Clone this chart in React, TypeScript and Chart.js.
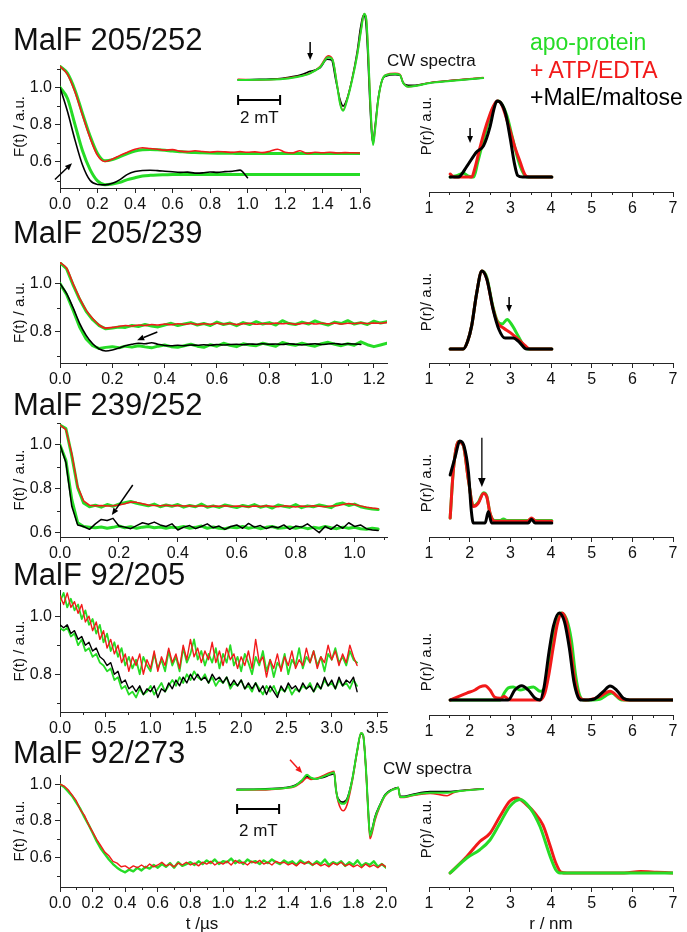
import React, { useEffect, useRef } from 'react';
import { Chart, registerables } from 'chart.js';

Chart.register(...registerables);

const FONT = "'Liberation Sans', Arial, Helvetica, sans-serif";
Chart.defaults.font.family = FONT;

const GREEN = '#26dc26';
const RED = '#f21a1a';
const BLACK = '#000000';
const AXIS = '#262626';
const TEXT = '#111111';

type Pt = [number, number];

// ---------------- Row 1 : MalF 205/252 ----------------
const R1_STEP = 0.04;
const R1_RED = [1.113,1.07,0.975,0.85,0.73,0.635,0.602,0.615,0.635,0.652,0.668,0.676,0.672,0.668,0.663,0.666,0.658,0.655,0.66,0.656,0.652,0.656,0.654,0.651,0.655,0.652,0.654,0.65,0.657,0.668,0.652,0.648,0.66,0.645,0.652,0.649,0.652,0.648,0.65,0.649,0.648];
const R1_GREEN_UP = [1.113,1.075,0.985,0.86,0.74,0.645,0.606,0.612,0.628,0.645,0.658,0.665,0.667,0.665,0.662,0.658,0.655,0.652,0.65,0.649,0.648,0.647,0.646,0.646,0.645,0.645,0.645,0.645,0.645,0.645,0.645,0.645,0.645,0.645,0.645,0.645,0.645,0.645,0.645,0.645,0.645];
const R1_BLACK = [1.0,0.87,0.717,0.583,0.501,0.479,0.477,0.485,0.505,0.533,0.548,0.554,0.555,0.553,0.55,0.547,0.544,0.545,0.54,0.541,0.546,0.544,0.548,0.55,0.556,0.515];
const R1_GREEN_LO = [1.0,0.94,0.8,0.66,0.56,0.498,0.478,0.482,0.49,0.505,0.515,0.524,0.528,0.53,0.531,0.532,0.532,0.532,0.532,0.532,0.532,0.532,0.532,0.532,0.532,0.532,0.532,0.532,0.532,0.532,0.532,0.532,0.532,0.532,0.532,0.532,0.532,0.532,0.532,0.532,0.532];
const R1_PR_BLACK: Pt[] = [[1.52,0],[1.72,0],[1.93,0.14],[2.17,0.33],[2.34,0.41],[2.5,0.66],[2.6,0.9],[2.67,1.0],[2.76,0.98],[2.88,0.84],[3.0,0.5],[3.1,0.18],[3.18,0.02],[3.3,0],[4.02,0]];
const R1_PR_RED: Pt[] = [[1.52,0.04],[1.62,0],[2.05,0],[2.13,0.12],[2.25,0.38],[2.42,0.7],[2.58,0.93],[2.68,1.0],[2.78,0.96],[2.9,0.78],[3.0,0.6],[3.12,0.38],[3.24,0.2],[3.36,0.03],[3.46,0],[4.02,0]];
const R1_PR_GREEN: Pt[] = [[1.52,0],[1.7,0.02],[1.85,0.05],[1.97,0.01],[2.1,0],[2.2,0.2],[2.38,0.57],[2.55,0.88],[2.7,1.0],[2.8,0.95],[2.92,0.8],[3.05,0.52],[3.18,0.25],[3.3,0.07],[3.4,0],[4.02,0]];
const R1_CW_GREEN: Pt[] = [[0,0],[1.05,0.005],[2,0.01],[2.81,0.045],[3.43,0.1],[3.9,0.19],[4.29,0.34],[4.5,0.3],[4.71,-0.07],[4.86,-0.36],[5.0,-0.46],[5.19,-0.3],[5.43,0],[5.67,0.37],[5.86,0.75],[6.0,0.99],[6.1,0.92],[6.19,0.45],[6.29,-0.3],[6.38,-0.82],[6.43,-0.97],[6.52,-0.75],[6.67,-0.3],[6.86,0],[7.05,0.075],[7.48,0.09],[7.71,0.075],[7.86,-0.045],[8.1,-0.1],[8.43,-0.09],[9.14,-0.045],[10.1,-0.015],[11.67,0.03]];
const R1_CW_RED: Pt[] = [[0,0.01],[1.05,0.0],[2,0.015],[2.81,0.05],[3.43,0.1],[3.9,0.2],[4.29,0.36],[4.5,0.31],[4.71,-0.06],[4.86,-0.35],[5.0,-0.45],[5.19,-0.29],[5.43,0.01],[5.67,0.38],[5.86,0.76],[6.0,0.99],[6.1,0.92],[6.19,0.45],[6.29,-0.3],[6.38,-0.8],[6.43,-0.95],[6.52,-0.74],[6.67,-0.3],[6.86,0],[7.05,0.08],[7.48,0.1],[7.71,0.085],[7.86,-0.04],[8.1,-0.1],[8.43,-0.09],[9.14,-0.04],[10.1,-0.01],[11.67,0.035]];
const R1_CW_BLACK: Pt[] = [[0,0],[1,0.01],[2,0.02],[2.6,0.05],[3.0,0.08],[3.43,0.13],[3.9,0.18],[4.24,0.31],[4.45,0.3],[4.65,0.0],[4.86,-0.3],[5.0,-0.39],[5.2,-0.27],[5.43,0.02],[5.67,0.42],[5.83,0.78],[5.97,0.97],[6.07,0.9],[6.17,0.42],[6.27,-0.3],[6.36,-0.8],[6.42,-0.93],[6.52,-0.7],[6.67,-0.28],[6.86,0],[7.05,0.06],[7.48,0.08],[7.71,0.07],[7.86,-0.04],[8.1,-0.08],[8.43,-0.08],[9.14,-0.04],[10.1,-0.01],[11.67,0.03]];

// ---------------- Row 2 : MalF 205/239 ----------------
const R2_STEP = 0.025;
const R2_RED = [1.087,1.065,1.0,0.94,0.89,0.855,0.828,0.815,0.818,0.822,0.826,0.824,0.828,0.826,0.83,0.828,0.832,0.829,0.833,0.831,0.834,0.83,0.833,0.831,0.835,0.832,0.834,0.83,0.833,0.835,0.831,0.834,0.832,0.836,0.833,0.835,0.831,0.834,0.836,0.832,0.835,0.833,0.836,0.832,0.835,0.834,0.837,0.834,0.836,0.835,0.839];
const R2_GREEN_UP = [1.087,1.062,0.995,0.935,0.885,0.85,0.825,0.812,0.815,0.82,0.818,0.826,0.822,0.83,0.824,0.82,0.828,0.835,0.826,0.832,0.838,0.828,0.834,0.826,0.84,0.83,0.836,0.825,0.838,0.83,0.842,0.832,0.838,0.828,0.846,0.834,0.83,0.84,0.832,0.845,0.835,0.828,0.84,0.834,0.846,0.832,0.838,0.83,0.844,0.836,0.842];
const R2_BLACK = [1.0,0.96,0.9,0.835,0.785,0.75,0.728,0.72,0.724,0.732,0.742,0.748,0.752,0.75,0.754,0.748,0.743,0.742,0.744,0.742,0.745,0.744,0.746,0.744,0.747,0.745,0.747,0.748,0.746,0.749,0.748,0.75,0.748,0.749,0.747,0.75,0.748,0.745,0.748,0.75,0.747,0.749,0.751,0.748,0.75,0.749,0.747];
const R2_GREEN_LO = [1.0,0.955,0.89,0.82,0.77,0.742,0.73,0.735,0.738,0.733,0.74,0.736,0.742,0.737,0.733,0.74,0.745,0.738,0.735,0.742,0.748,0.74,0.735,0.746,0.74,0.752,0.744,0.738,0.75,0.745,0.742,0.752,0.746,0.74,0.755,0.748,0.744,0.752,0.745,0.74,0.75,0.756,0.748,0.742,0.75,0.744,0.758,0.746,0.738,0.745,0.752];
const R2_PR_BLACK: Pt[] = [[1.52,0],[1.84,0],[1.95,0.1],[2.05,0.3],[2.17,0.71],[2.3,1.0],[2.42,0.9],[2.58,0.5],[2.72,0.25],[2.87,0.14],[3.07,0.14],[3.2,0.1],[3.4,0],[4.02,0]];
const R2_PR_RED: Pt[] = [[1.52,0],[1.84,0],[1.95,0.1],[2.05,0.3],[2.17,0.71],[2.3,1.0],[2.42,0.9],[2.56,0.55],[2.68,0.34],[2.83,0.27],[3.0,0.21],[3.16,0.14],[3.35,0.05],[3.48,0],[4.02,0]];
const R2_PR_GREEN: Pt[] = [[1.52,0],[1.84,0],[1.95,0.1],[2.05,0.3],[2.17,0.71],[2.3,1.0],[2.42,0.92],[2.56,0.57],[2.68,0.36],[2.8,0.32],[2.92,0.38],[3.05,0.3],[3.2,0.16],[3.32,0.05],[3.44,0],[4.02,0]];

// ---------------- Row 3 : MalF 239/252 ----------------
const R3_STEP = 0.02;
const R3_RED = [1.091,1.07,0.96,0.81,0.745,0.725,0.722,0.724,0.721,0.723,0.726,0.732,0.74,0.738,0.732,0.726,0.724,0.723,0.725,0.722,0.724,0.721,0.723,0.72,0.722,0.719,0.721,0.72,0.722,0.719,0.721,0.72,0.718,0.721,0.719,0.722,0.72,0.718,0.722,0.72,0.717,0.721,0.719,0.722,0.72,0.718,0.721,0.722,0.728,0.733,0.728,0.722,0.716,0.712,0.709];
const R3_GREEN_UP = [1.091,1.075,0.95,0.805,0.735,0.718,0.725,0.716,0.728,0.72,0.73,0.736,0.742,0.734,0.728,0.722,0.73,0.718,0.726,0.72,0.728,0.716,0.724,0.718,0.73,0.716,0.722,0.715,0.726,0.72,0.714,0.724,0.718,0.728,0.716,0.722,0.712,0.726,0.72,0.716,0.728,0.714,0.722,0.718,0.726,0.72,0.714,0.73,0.735,0.724,0.73,0.718,0.712,0.708,0.705];
const R3_BLACK = [1.0,0.92,0.72,0.635,0.628,0.615,0.64,0.66,0.655,0.665,0.63,0.625,0.618,0.632,0.645,0.638,0.648,0.635,0.628,0.64,0.612,0.625,0.632,0.618,0.628,0.64,0.622,0.63,0.615,0.628,0.635,0.62,0.642,0.625,0.632,0.618,0.628,0.622,0.635,0.615,0.63,0.625,0.64,0.62,0.6,0.628,0.615,0.635,0.62,0.645,0.628,0.635,0.618,0.612,0.61];
const R3_GREEN_LO = [1.0,0.93,0.75,0.645,0.628,0.625,0.622,0.626,0.62,0.624,0.63,0.622,0.627,0.62,0.625,0.628,0.622,0.626,0.62,0.625,0.622,0.628,0.62,0.624,0.63,0.62,0.626,0.62,0.618,0.625,0.622,0.628,0.62,0.625,0.618,0.624,0.628,0.62,0.622,0.626,0.62,0.625,0.618,0.624,0.62,0.628,0.622,0.618,0.625,0.62,0.624,0.618,0.615,0.62,0.616];
const R3_PR_BLACK: Pt[] = [[1.52,0.585],[1.64,0.8],[1.76,1.0],[1.86,0.94],[1.97,0.62],[2.04,0.15],[2.09,0],[2.38,0],[2.46,0.14],[2.54,0],[3.44,0],[3.52,0.045],[3.61,0],[4.02,0]];
const R3_PR_RED: Pt[] = [[1.52,0.06],[1.6,0.65],[1.72,0.99],[1.84,0.95],[1.97,0.52],[2.09,0.2],[2.21,0.24],[2.34,0.36],[2.42,0.32],[2.5,0.12],[2.62,0.02],[3.42,0.02],[3.52,0.06],[3.63,0.02],[4.02,0.02]];
const R3_PR_GREEN: Pt[] = [[1.52,0.06],[1.6,0.65],[1.72,0.99],[1.84,0.95],[1.97,0.52],[2.09,0.21],[2.21,0.25],[2.34,0.37],[2.42,0.33],[2.5,0.12],[2.62,0.03],[2.75,0.03],[2.83,0.05],[2.92,0.03],[3.42,0.03],[3.52,0.05],[3.63,0.03],[4.02,0.03]];

// ---------------- Row 4 : MalF 92/205 ----------------
const R4_STEP = 0.04;
const R4_RED = [1.07,1.04,1.08,1.03,1.05,1.01,1.04,0.98,1.0,0.95,0.98,0.92,0.95,0.89,0.92,0.87,0.9,0.84,0.87,0.81,0.86,0.83,0.87,0.8,0.85,0.82,0.88,0.81,0.86,0.83,0.89,0.84,0.87,0.82,0.9,0.85,0.92,0.86,0.89,0.84,0.88,0.85,0.91,0.84,0.88,0.83,0.89,0.85,0.87,0.82,0.86,0.83,0.88,0.82,0.92,0.84,0.86,0.79,0.85,0.82,0.87,0.81,0.86,0.83,0.88,0.82,0.85,0.83,0.89,0.84,0.88,0.82,0.86,0.84,0.9,0.85,0.88,0.83,0.87,0.84,0.9,0.86,0.83];
const R4_GREEN_UP = [1.05,1.08,1.03,1.06,1.02,1.04,0.99,1.02,0.97,0.99,0.94,0.97,0.91,0.94,0.88,0.91,0.86,0.89,0.83,0.86,0.82,0.85,0.8,0.86,0.83,0.81,0.87,0.82,0.85,0.81,0.88,0.83,0.86,0.81,0.89,0.84,0.87,0.92,0.85,0.88,0.83,0.87,0.84,0.89,0.82,0.87,0.84,0.9,0.83,0.86,0.81,0.87,0.84,0.8,0.86,0.83,0.88,0.81,0.85,0.79,0.84,0.82,0.87,0.8,0.85,0.83,0.89,0.82,0.86,0.84,0.88,0.83,0.86,0.81,0.87,0.85,0.89,0.84,0.86,0.83,0.88,0.85,0.84];
const R4_BLACK = [0.97,0.96,0.97,0.94,0.95,0.92,0.93,0.9,0.91,0.88,0.89,0.86,0.85,0.83,0.84,0.8,0.81,0.77,0.78,0.75,0.76,0.74,0.76,0.73,0.75,0.74,0.76,0.72,0.75,0.74,0.77,0.75,0.78,0.76,0.79,0.77,0.8,0.78,0.8,0.78,0.79,0.77,0.8,0.78,0.79,0.77,0.79,0.76,0.78,0.76,0.78,0.75,0.77,0.75,0.77,0.74,0.76,0.73,0.76,0.74,0.72,0.76,0.74,0.77,0.75,0.76,0.74,0.77,0.75,0.76,0.74,0.77,0.75,0.79,0.76,0.78,0.75,0.79,0.76,0.78,0.77,0.79,0.74];
const R4_GREEN_LO = [0.96,0.95,0.96,0.93,0.94,0.9,0.92,0.88,0.89,0.86,0.87,0.84,0.83,0.81,0.82,0.78,0.79,0.75,0.76,0.73,0.74,0.72,0.75,0.73,0.74,0.76,0.73,0.75,0.77,0.74,0.76,0.78,0.76,0.79,0.77,0.8,0.78,0.81,0.79,0.78,0.8,0.77,0.79,0.76,0.78,0.77,0.79,0.75,0.77,0.76,0.78,0.75,0.76,0.74,0.77,0.75,0.73,0.76,0.74,0.76,0.73,0.75,0.74,0.76,0.73,0.75,0.74,0.76,0.75,0.77,0.74,0.76,0.75,0.78,0.76,0.77,0.75,0.78,0.76,0.77,0.75,0.78,0.76];
const R4_PR_RED: Pt[] = [[1.52,0],[1.72,0.04],[1.93,0.08],[2.13,0.115],[2.25,0.15],[2.38,0.165],[2.5,0.115],[2.62,0.03],[2.75,0.02],[2.85,0.04],[2.99,0],[3.73,0],[3.85,0.08],[3.95,0.3],[4.06,0.62],[4.16,0.88],[4.27,1.0],[4.38,0.9],[4.48,0.6],[4.58,0.25],[4.7,0.03],[4.85,0],[5.2,0.04],[5.45,0.1],[5.7,0.02],[5.86,0],[7,0]];
const R4_PR_GREEN: Pt[] = [[1.52,0],[2.75,0],[2.85,0.08],[2.95,0.14],[3.07,0.15],[3.24,0.115],[3.4,0.135],[3.57,0.15],[3.73,0.1],[3.85,0.15],[3.95,0.4],[4.05,0.72],[4.15,0.95],[4.25,1.0],[4.38,0.93],[4.5,0.69],[4.6,0.3],[4.7,0.06],[4.8,0],[5.2,0.01],[5.49,0.08],[5.74,0],[7,0]];
const R4_PR_BLACK: Pt[] = [[1.52,0],[2.95,0],[3.11,0.115],[3.28,0.165],[3.44,0.115],[3.61,0.02],[3.73,0],[3.83,0.15],[3.95,0.55],[4.06,0.85],[4.2,1.0],[4.33,0.9],[4.45,0.6],[4.56,0.22],[4.66,0.04],[4.75,0],[5.05,0.01],[5.29,0.1],[5.45,0.16],[5.61,0.115],[5.78,0.02],[5.94,0],[7,0]];

// ---------------- Row 5 : MalF 92/273 ----------------
const R5_STEP = 0.025;
const R5_RED = [1.0,0.99,0.97,0.94,0.91,0.86,0.83,0.78,0.74,0.7,0.665,0.63,0.61,0.58,0.57,0.55,0.555,0.54,0.555,0.545,0.56,0.545,0.565,0.55,0.56,0.575,0.555,0.565,0.55,0.57,0.56,0.575,0.56,0.57,0.555,0.575,0.565,0.58,0.56,0.575,0.565,0.58,0.56,0.585,0.57,0.575,0.56,0.58,0.57,0.585,0.565,0.575,0.56,0.58,0.57,0.575,0.56,0.57,0.555,0.575,0.565,0.58,0.56,0.57,0.555,0.565,0.55,0.57,0.56,0.575,0.555,0.565,0.55,0.56,0.545,0.565,0.55,0.56,0.545,0.565,0.55];
const R5_GREEN = [1.0,0.985,0.96,0.935,0.9,0.865,0.82,0.78,0.735,0.69,0.65,0.62,0.59,0.565,0.545,0.53,0.52,0.535,0.525,0.545,0.53,0.55,0.54,0.56,0.545,0.565,0.55,0.57,0.545,0.575,0.555,0.565,0.575,0.56,0.58,0.565,0.585,0.57,0.59,0.565,0.58,0.575,0.595,0.57,0.585,0.565,0.59,0.575,0.58,0.565,0.585,0.57,0.59,0.575,0.565,0.585,0.57,0.58,0.56,0.585,0.57,0.575,0.56,0.58,0.565,0.59,0.56,0.575,0.565,0.58,0.555,0.575,0.56,0.585,0.555,0.57,0.56,0.58,0.55,0.565,0.545];
const R5_PR_RED: Pt[] = [[1.52,0],[1.93,0.22],[2.25,0.42],[2.5,0.53],[2.75,0.76],[2.99,0.96],[3.16,1.0],[3.4,0.91],[3.6,0.8],[3.8,0.64],[3.98,0.36],[4.12,0.13],[4.25,0.01],[4.4,0],[5.8,0],[6.2,0.02],[6.6,0.01],[7,0]];
const R5_PR_GREEN: Pt[] = [[1.52,0],[1.93,0.2],[2.25,0.31],[2.5,0.44],[2.75,0.67],[2.99,0.89],[3.24,0.98],[3.48,0.87],[3.73,0.62],[3.98,0.22],[4.12,0.04],[4.22,0],[7,0]];
const R5_CW_GREEN: Pt[] = [[0,0],[1.1,0.01],[2.29,0.035],[2.76,0.07],[3.1,0.17],[3.33,0.26],[3.52,0.21],[3.76,0.19],[4.05,0.22],[4.43,0.28],[4.62,0.3],[4.71,0],[4.81,-0.17],[5.05,-0.24],[5.24,-0.17],[5.48,0.17],[5.71,0.66],[5.9,0.98],[6.0,0.95],[6.14,0.34],[6.24,-0.34],[6.33,-0.79],[6.43,-0.69],[6.57,-0.48],[6.81,-0.26],[7.05,-0.09],[7.38,0],[7.62,0.03],[7.67,0.04],[7.76,-0.12],[7.95,-0.12],[8.33,-0.09],[9.19,-0.05],[10,-0.05],[10.62,-0.02],[11.71,0.017]];
const R5_CW_RED: Pt[] = [[0,0],[1.1,0.0],[2.29,0.03],[2.76,0.06],[3.1,0.14],[3.33,0.21],[3.52,0.18],[3.76,0.2],[4.05,0.24],[4.43,0.3],[4.62,0.32],[4.71,0],[4.81,-0.2],[5.05,-0.36],[5.24,-0.25],[5.48,0.14],[5.71,0.64],[5.9,0.98],[6.0,0.95],[6.14,0.32],[6.24,-0.38],[6.33,-0.84],[6.43,-0.74],[6.57,-0.52],[6.81,-0.28],[7.05,-0.1],[7.38,0],[7.62,0.03],[7.67,0.04],[7.76,-0.13],[7.95,-0.13],[8.33,-0.1],[9.19,-0.06],[10,-0.1],[10.3,-0.05],[10.62,-0.02],[11.71,0.017]];
const R5_CW_BLACK: Pt[] = [[0,0.01],[1.1,0.015],[2.29,0.04],[2.76,0.08],[3.1,0.16],[3.33,0.23],[3.52,0.2],[3.76,0.19],[4.05,0.21],[4.43,0.26],[4.62,0.28],[4.71,0],[4.81,-0.15],[5.05,-0.21],[5.24,-0.15],[5.48,0.18],[5.71,0.66],[5.9,0.97],[6.0,0.94],[6.14,0.34],[6.24,-0.32],[6.33,-0.76],[6.43,-0.67],[6.57,-0.46],[6.81,-0.25],[7.05,-0.08],[7.38,0.01],[7.67,0.04],[7.76,-0.11],[7.95,-0.11],[8.33,-0.08],[9.19,-0.03],[10,-0.03],[10.62,-0.01],[11.71,0.02]];

// ---------------- Tick labels ----------------
const R1_X_TICKS = [0, 0.2, 0.4, 0.6, 0.8, 1.0, 1.2, 1.4, 1.6];
const R2_X_TICKS = [0, 0.2, 0.4, 0.6, 0.8, 1.0, 1.2];
const R3_X_TICKS = [0, 0.2, 0.4, 0.6, 0.8, 1.0];
const R4_X_TICKS = [0, 0.5, 1.0, 1.5, 2.0, 2.5, 3.0, 3.5];
const R5_X_TICKS = [0, 0.2, 0.4, 0.6, 0.8, 1.0, 1.2, 1.4, 1.6, 1.8, 2.0];
const Y_TICKS_A = [0.6, 0.8, 1.0];
const Y_TICKS_B = [0.8, 1.0];
const R_TICKS = [1, 2, 3, 4, 5, 6, 7];

const TITLES = ['MalF 205/252', 'MalF 205/239', 'MalF 239/252', 'MalF 92/205', 'MalF 92/273'];
const LEGEND = [
  { text: 'apo-protein', color: GREEN },
  { text: '+ ATP/EDTA', color: RED },
  { text: '+MalE/maltose', color: BLACK },
];

// ---------------- helpers ----------------
const stepPts = (vals: number[], step: number) => vals.map((y, i) => ({ x: Math.round(i * step * 1e6) / 1e6, y }));
const pairPts = (arr: Pt[]) => arr.map(([x, y]) => ({ x, y }));

function line(data: any[], color: string, width: number, smooth = false) {
  return {
    data,
    borderColor: color,
    backgroundColor: color,
    borderWidth: width,
    pointRadius: 0,
    pointHoverRadius: 0,
    fill: false,
    tension: 0,
    cubicInterpolationMode: smooth ? 'monotone' : 'default',
    borderJoinStyle: 'round',
    borderCapStyle: 'round',
  };
}

function minors(min: number, max: number, step: number, majors: number[]) {
  const out: number[] = [];
  const k0 = Math.ceil(min / step - 1e-6);
  for (let k = k0; k * step <= max + 1e-9; k++) {
    const v = Math.round(k * step * 1e6) / 1e6;
    if (!majors.some((m) => Math.abs(m - v) < 1e-6)) out.push(v);
  }
  return out;
}

type Arrow = { x1: number; y1: number; x2: number; y2: number; color?: string; width?: number; head?: number };

function drawArrow(ctx: CanvasRenderingContext2D, x1: number, y1: number, x2: number, y2: number, color: string, width: number, head: number) {
  const ang = Math.atan2(y2 - y1, x2 - x1);
  const bx = x2 - head * Math.cos(ang);
  const by = y2 - head * Math.sin(ang);
  const hw = head * 0.42;
  ctx.strokeStyle = color;
  ctx.fillStyle = color;
  ctx.lineWidth = width;
  ctx.beginPath();
  ctx.moveTo(x1, y1);
  ctx.lineTo(bx, by);
  ctx.stroke();
  ctx.beginPath();
  ctx.moveTo(x2, y2);
  ctx.lineTo(bx + hw * Math.sin(ang), by - hw * Math.cos(ang));
  ctx.lineTo(bx - hw * Math.sin(ang), by + hw * Math.cos(ang));
  ctx.closePath();
  ctx.fill();
}

function decor(cfg: { minorX?: number[]; minorY?: number[]; arrows?: Arrow[]; bar?: { x1: number; x2: number; y: number } }) {
  return {
    id: 'decor',
    afterDraw(chart: any) {
      const { ctx, chartArea: a, scales } = chart;
      const xs = scales.x;
      const ys = scales.y;
      ctx.save();
      ctx.strokeStyle = AXIS;
      ctx.lineWidth = 1;
      (cfg.minorX || []).forEach((v) => {
        const px = Math.round(xs.getPixelForValue(v)) + 0.5;
        ctx.beginPath();
        ctx.moveTo(px, a.bottom);
        ctx.lineTo(px, a.bottom + 3);
        ctx.stroke();
      });
      (cfg.minorY || []).forEach((v) => {
        const py = Math.round(ys.getPixelForValue(v)) + 0.5;
        ctx.beginPath();
        ctx.moveTo(a.left, py);
        ctx.lineTo(a.left - 3, py);
        ctx.stroke();
      });
      (cfg.arrows || []).forEach((ar) => {
        drawArrow(ctx, xs.getPixelForValue(ar.x1), ys.getPixelForValue(ar.y1), xs.getPixelForValue(ar.x2), ys.getPixelForValue(ar.y2), ar.color || BLACK, ar.width || 1.5, ar.head || 7);
      });
      if (cfg.bar) {
        const x1 = xs.getPixelForValue(cfg.bar.x1);
        const x2 = xs.getPixelForValue(cfg.bar.x2);
        const y = ys.getPixelForValue(cfg.bar.y);
        ctx.strokeStyle = BLACK;
        ctx.lineWidth = 2;
        ctx.beginPath();
        ctx.moveTo(x1, y);
        ctx.lineTo(x2, y);
        ctx.moveTo(x1, y - 5);
        ctx.lineTo(x1, y + 5);
        ctx.moveTo(x2, y - 5);
        ctx.lineTo(x2, y + 5);
        ctx.stroke();
      }
      ctx.restore();
    },
  };
}

const tickFont = { family: FONT, size: 16 };
const gridOpts = { display: true, drawOnChartArea: false, drawTicks: true, tickLength: 5, tickWidth: 1, color: AXIS };
const borderOpts = { display: true, color: AXIS, width: 1 };

function xScale(min: number, max: number, ticks: number[], dec: number, H: number, title?: string) {
  return {
    type: 'linear',
    position: 'bottom',
    min,
    max,
    afterBuildTicks: (s: any) => {
      s.ticks = ticks.map((value) => ({ value }));
    },
    afterFit: (s: any) => {
      s.height = H;
    },
    ticks: { autoSkip: false, maxRotation: 0, minRotation: 0, padding: 2, color: TEXT, font: tickFont, callback: (v: any) => Number(v).toFixed(dec) },
    grid: gridOpts,
    border: borderOpts,
    title: title
      ? { display: true, text: title, color: TEXT, font: { family: FONT, size: 17 }, padding: { top: 0, bottom: 0 } }
      : { display: false },
  };
}

const PAD_T = 15;

interface PanelOut {
  left: number;
  top: number;
  width: number;
  height: number;
  make: () => any;
}

interface LeftSpec {
  top: number;
  bottom: number;
  right: number;
  xMin: number;
  xMax: number;
  yMin: number;
  yMax: number;
  xTicks: number[];
  yTicks: number[];
  xMinor: number;
  yMinor: number;
  dec: number;
  datasets: () => any[];
  arrows?: Arrow[];
  tall?: boolean;
}

function leftPanel(s: LeftSpec): PanelOut {
  const H = s.tall ? 48 : 30;
  const PR = 18;
  const top = s.top - PAD_T;
  const width = s.right + PR;
  const height = s.bottom - top + H;
  const make = () => ({
    type: 'line',
    data: { datasets: s.datasets() },
    options: {
      animation: false,
      responsive: false,
      events: [],
      layout: { padding: { top: PAD_T, right: PR, bottom: 0, left: 0 } },
      plugins: { legend: { display: false }, tooltip: { enabled: false } },
      scales: {
        x: xScale(s.xMin, s.xMax, s.xTicks, s.dec, H),
        y: {
          type: 'linear',
          position: 'left',
          min: s.yMin,
          max: s.yMax,
          afterBuildTicks: (sc: any) => {
            sc.ticks = s.yTicks.map((value) => ({ value }));
          },
          afterFit: (sc: any) => {
            sc.width = 60;
          },
          ticks: { padding: 3, color: TEXT, font: tickFont, callback: (v: any) => Number(v).toFixed(1) },
          grid: gridOpts,
          border: borderOpts,
          title: { display: true, text: 'F(t) / a.u.', color: TEXT, font: { family: FONT, size: 15 }, padding: { top: 11, bottom: 0 } },
        },
      },
    },
    plugins: [
      decor({
        minorX: minors(s.xMin, s.xMax, s.xMinor, s.xTicks),
        minorY: minors(s.yMin, s.yMax, s.yMinor, s.yTicks),
        arrows: s.arrows,
      }),
    ],
  });
  return { left: 0, top, width, height, make };
}

interface RightSpec {
  top: number;
  bottom: number;
  yMin: number;
  yMax: number;
  datasets: () => any[];
  arrows?: Arrow[];
  xTitle?: string;
}

function rightPanel(s: RightSpec): PanelOut {
  const H = s.xTitle ? 48 : 30;
  const LEFT = 400;
  const PR = 14;
  const top = s.top - PAD_T;
  const width = 673 + PR - LEFT;
  const height = s.bottom - top + H;
  const make = () => ({
    type: 'line',
    data: { datasets: s.datasets() },
    options: {
      animation: false,
      responsive: false,
      events: [],
      layout: { padding: { top: PAD_T, right: PR, bottom: 0, left: 0 } },
      plugins: { legend: { display: false }, tooltip: { enabled: false } },
      scales: {
        x: xScale(1, 7, R_TICKS, 0, H, s.xTitle),
        y: {
          type: 'linear',
          position: 'left',
          min: s.yMin,
          max: s.yMax,
          afterBuildTicks: (sc: any) => {
            sc.ticks = [];
          },
          afterFit: (sc: any) => {
            sc.width = 29;
          },
          ticks: { display: false },
          grid: { display: false },
          border: { display: false },
          title: { display: true, text: 'P(r)/ a.u.', color: TEXT, font: { family: FONT, size: 15 }, padding: { top: 18, bottom: 0 } },
        },
      },
    },
    plugins: [decor({ minorX: minors(1, 7, 0.5, R_TICKS), arrows: s.arrows })],
  });
  return { left: LEFT, top, width, height, make };
}

interface InsetSpec {
  left: number;
  top: number;
  height: number;
  yMin: number;
  yMax: number;
  datasets: () => any[];
  bar: { x1: number; x2: number; y: number };
  arrows?: Arrow[];
}

function insetPanel(s: InsetSpec): PanelOut {
  const width = 252;
  const make = () => ({
    type: 'line',
    data: { datasets: s.datasets() },
    options: {
      animation: false,
      responsive: false,
      events: [],
      layout: { padding: 0 },
      plugins: { legend: { display: false }, tooltip: { enabled: false } },
      scales: {
        x: { type: 'linear', display: false, min: -0.1, max: 11.9 },
        y: { type: 'linear', display: false, min: s.yMin, max: s.yMax },
      },
    },
    plugins: [decor({ arrows: s.arrows, bar: s.bar })],
  });
  return { left: s.left, top: s.top, width, height: s.height, make };
}

function ChartCanvas({ left, top, width, height, make }: PanelOut) {
  const ref = useRef<HTMLCanvasElement | null>(null);
  useEffect(() => {
    if (!ref.current) return;
    const chart = new Chart(ref.current, make());
    return () => chart.destroy();
  }, []);
  return <canvas ref={ref} width={width} height={height} style={{ position: 'absolute', left, top, width, height }} />;
}

const PANELS: PanelOut[] = [
  leftPanel({
    top: 65, bottom: 188, right: 360, xMin: 0, xMax: 1.6, yMin: 0.46, yMax: 1.12,
    xTicks: R1_X_TICKS, yTicks: Y_TICKS_A, xMinor: 0.1, yMinor: 0.1, dec: 1,
    datasets: () => [
      line(stepPts(R1_BLACK, R1_STEP), BLACK, 1.6, true),
      line(stepPts(R1_RED, R1_STEP), RED, 1.6, true),
      line(stepPts(R1_GREEN_UP, R1_STEP), GREEN, 3, true),
      line(stepPts(R1_GREEN_LO, R1_STEP), GREEN, 3, true),
    ],
    arrows: [{ x1: -0.027, y1: 0.506, x2: 0.064, y2: 0.593 }],
  }),
  leftPanel({
    top: 262, bottom: 363, right: 387, xMin: 0, xMax: 1.25, yMin: 0.67, yMax: 1.09,
    xTicks: R2_X_TICKS, yTicks: Y_TICKS_B, xMinor: 0.1, yMinor: 0.1, dec: 1,
    datasets: () => [
      line(stepPts(R2_BLACK, R2_STEP), BLACK, 1.6, true),
      line(stepPts(R2_RED, R2_STEP), RED, 1.6, true),
      line(stepPts(R2_GREEN_UP, R2_STEP), GREEN, 3),
      line(stepPts(R2_GREEN_LO, R2_STEP), GREEN, 3),
    ],
    arrows: [{ x1: 0.372, y1: 0.799, x2: 0.295, y2: 0.765 }],
  }),
  leftPanel({
    top: 423, bottom: 537, right: 387, xMin: 0, xMax: 1.11, yMin: 0.58, yMax: 1.1,
    xTicks: R3_X_TICKS, yTicks: Y_TICKS_A, xMinor: 0.1, yMinor: 0.1, dec: 1,
    datasets: () => [
      line(stepPts(R3_BLACK, R3_STEP), BLACK, 1.5),
      line(stepPts(R3_RED, R3_STEP), RED, 1.5),
      line(stepPts(R3_GREEN_UP, R3_STEP), GREEN, 3),
      line(stepPts(R3_GREEN_LO, R3_STEP), GREEN, 3),
    ],
    arrows: [{ x1: 0.247, y1: 0.817, x2: 0.176, y2: 0.68 }],
  }),
  leftPanel({
    top: 590, bottom: 712, right: 387, xMin: 0, xMax: 3.61, yMin: 0.67, yMax: 1.09,
    xTicks: R4_X_TICKS, yTicks: Y_TICKS_B, xMinor: 0.25, yMinor: 0.1, dec: 1,
    datasets: () => [
      line(stepPts(R4_BLACK, R4_STEP), BLACK, 1.4),
      line(stepPts(R4_RED, R4_STEP), RED, 1.4),
      line(stepPts(R4_GREEN_UP, R4_STEP), GREEN, 1.8),
      line(stepPts(R4_GREEN_LO, R4_STEP), GREEN, 1.8),
    ],
  }),
  leftPanel({
    top: 775, bottom: 887, right: 386, xMin: 0, xMax: 2.0, yMin: 0.44, yMax: 1.05,
    xTicks: R5_X_TICKS, yTicks: Y_TICKS_A, xMinor: 0.1, yMinor: 0.1, dec: 1,
    tall: true,
    datasets: () => [
      line(stepPts(R5_RED, R5_STEP), RED, 1.4),
      line(stepPts(R5_GREEN, R5_STEP), GREEN, 2.4),
    ],
  }),
  rightPanel({
    top: 60, bottom: 192, yMin: -0.197, yMax: 1.539,
    datasets: () => [
      line(pairPts(R1_PR_BLACK), BLACK, 3, true),
      line(pairPts(R1_PR_RED), RED, 3, true),
      line(pairPts(R1_PR_GREEN), GREEN, 3, true),
    ],
    arrows: [{ x1: 2.01, y1: 0.645, x2: 2.01, y2: 0.447 }],
  }),
  rightPanel({
    top: 241, bottom: 363, yMin: -0.179, yMax: 1.385,
    datasets: () => [
      line(pairPts(R2_PR_BLACK), BLACK, 3, true),
      line(pairPts(R2_PR_RED), RED, 3, true),
      line(pairPts(R2_PR_GREEN), GREEN, 3, true),
    ],
    arrows: [{ x1: 2.97, y1: 0.667, x2: 2.97, y2: 0.474 }],
  }),
  rightPanel({
    top: 429, bottom: 537, yMin: -0.171, yMax: 1.146,
    datasets: () => [
      line(pairPts(R3_PR_BLACK), BLACK, 3, true),
      line(pairPts(R3_PR_RED), RED, 3, true),
      line(pairPts(R3_PR_GREEN), GREEN, 3, true),
    ],
    arrows: [{ x1: 2.3, y1: 1.04, x2: 2.3, y2: 0.44, width: 1.3, head: 9 }],
  }),
  rightPanel({
    top: 609, bottom: 715, yMin: -0.172, yMax: 1.046,
    datasets: () => [
      line(pairPts(R4_PR_BLACK), BLACK, 3, true),
      line(pairPts(R4_PR_RED), RED, 3, true),
      line(pairPts(R4_PR_GREEN), GREEN, 3, true),
    ],
  }),
  rightPanel({
    top: 771, bottom: 887, yMin: -0.187, yMax: 1.36,
    xTitle: 'r / nm',
    datasets: () => [
      line(pairPts(R5_PR_GREEN), GREEN, 3, true),
      line(pairPts(R5_PR_RED), RED, 3, true),
    ],
  }),
  insetPanel({
    left: 236, top: 8, height: 144, yMin: -1.075, yMax: 1.075,
    datasets: () => [
      line(pairPts(R1_CW_GREEN), GREEN, 2, true),
      line(pairPts(R1_CW_RED), RED, 1.6, true),
      line(pairPts(R1_CW_BLACK), BLACK, 1.6, true),
    ],
    bar: { x1: 0, x2: 2, y: -0.3 },
    arrows: [{ x1: 3.43, y1: 0.567, x2: 3.43, y2: 0.3 }],
  }),
  insetPanel({
    left: 235, top: 725, height: 120, yMin: -0.95, yMax: 1.12,
    datasets: () => [
      line(pairPts(R5_CW_GREEN), GREEN, 2, true),
      line(pairPts(R5_CW_RED), RED, 1.6, true),
      line(pairPts(R5_CW_BLACK), BLACK, 1.6, true),
    ],
    bar: { x1: 0, x2: 2, y: -0.33 },
    arrows: [{ x1: 2.52, y1: 0.52, x2: 3.1, y2: 0.29, color: RED }],
  }),
];

const TITLE_TOPS = [24, 217, 389, 559, 737];

export default function App() {
  const abs = (left: number, top: number, size: number, color = TEXT): React.CSSProperties => ({
    position: 'absolute', left, top, fontSize: size, lineHeight: `${size}px`, color, whiteSpace: 'nowrap',
  });
  return (
    <div style={{ position: 'absolute', left: 0, top: 0, width: 687, height: 932, overflow: 'hidden', background: '#ffffff', fontFamily: FONT, color: TEXT }}>
      {PANELS.map((p, i) => (
        <ChartCanvas key={i} {...p} />
      ))}
      {TITLES.map((t, i) => (
        <div key={t} style={abs(13, TITLE_TOPS[i], 31)}>{t}</div>
      ))}
      {LEGEND.map((l, i) => (
        <div key={l.text} style={abs(530, 31 + i * 27.5, 23, l.color)}>{l.text}</div>
      ))}
      <div style={abs(387, 52, 17)}>CW spectra</div>
      <div style={abs(240, 109, 17)}>2 mT</div>
      <div style={abs(383, 760, 17)}>CW spectra</div>
      <div style={abs(239, 822, 17)}>2 mT</div>
      <div style={{ ...abs(182, 915, 17), width: 40, textAlign: 'center' }}>t /µs</div>
    </div>
  );
}
